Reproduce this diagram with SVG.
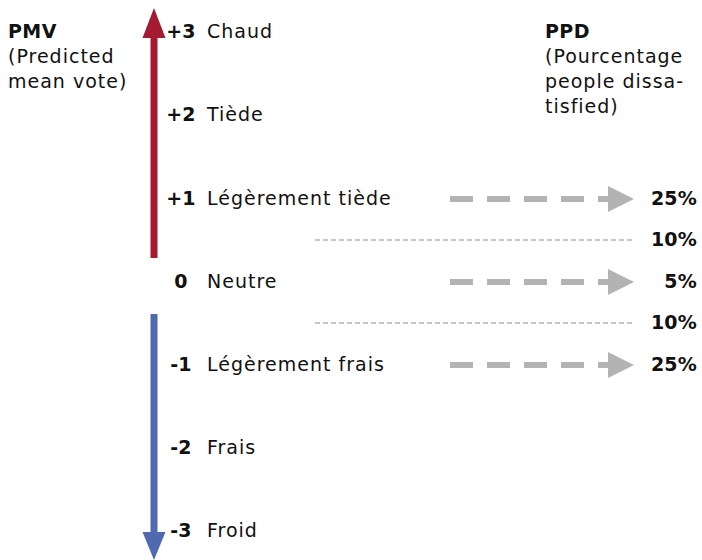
<svg xmlns="http://www.w3.org/2000/svg" width="702" height="560" viewBox="0 0 702 560">
<style>
text{font-family:"DejaVu Sans","Liberation Sans",sans-serif;font-size:19px;fill:#111;letter-spacing:1px}
.b{font-weight:bold;letter-spacing:0.4px}
.n{font-weight:bold;text-anchor:middle;letter-spacing:0.3px}
.p{font-weight:bold;text-anchor:end;letter-spacing:0.2px}
.dash{stroke:#b3b3b3;stroke-width:6;stroke-dasharray:23 14;fill:none}
.dot{stroke:#b3b3b3;stroke-width:1.5;stroke-dasharray:5 3;fill:none}
.head{fill:#b3b3b3}
</style>
<g id="pmv-title">
<text x="8" y="38" class="b">PMV</text>
<text x="8" y="63">(Predicted</text>
<text x="8" y="88">mean vote)</text>
</g>
<g id="ppd-title">
<text x="545" y="38" class="b">PPD</text>
<text x="545" y="63">(Pourcentage</text>
<text x="545" y="88">people dissa-</text>
<text x="545" y="113">tisfied)</text>
</g>
<g id="axis">
<rect x="150.5" y="36" width="7" height="222" fill="#a31a31"/>
<polygon points="154,8 142.5,38 165.5,38" fill="#a31a31"/>
<rect x="150.5" y="314" width="7" height="220" fill="#4f6aaf"/>
<polygon points="154,560 142.5,532 165.5,532" fill="#4f6aaf"/>
</g>
<g id="scale">
<text x="181" y="38" class="n">+3</text><text x="207" y="38">Chaud</text>
<text x="181" y="121" class="n">+2</text><text x="207" y="121">Tiède</text>
<text x="181" y="205" class="n">+1</text><text x="207" y="205">Légèrement tiède</text>
<text x="181" y="288" class="n">0</text><text x="207" y="288">Neutre</text>
<text x="181" y="371" class="n">-1</text><text x="207" y="371">Légèrement frais</text>
<text x="181" y="454" class="n">-2</text><text x="207" y="454">Frais</text>
<text x="181" y="537" class="n">-3</text><text x="207" y="537">Froid</text>
</g>
<g id="connectors">
<path class="dash" d="M450,199 H611"/>
<polygon class="head" points="608,186 634,199 608,212"/>
<path class="dash" d="M450,282 H611"/>
<polygon class="head" points="608,269 634,282 608,295"/>
<path class="dash" d="M450,365 H611"/>
<polygon class="head" points="608,352 634,365 608,378"/>
<path class="dot" d="M315,240 H634"/>
<path class="dot" d="M315,323 H634"/>
</g>
<g id="ppd-values">
<text x="697" y="205" class="p">25%</text>
<text x="697" y="246" class="p">10%</text>
<text x="697" y="288" class="p">5%</text>
<text x="697" y="329" class="p">10%</text>
<text x="697" y="371" class="p">25%</text>
</g>
</svg>
